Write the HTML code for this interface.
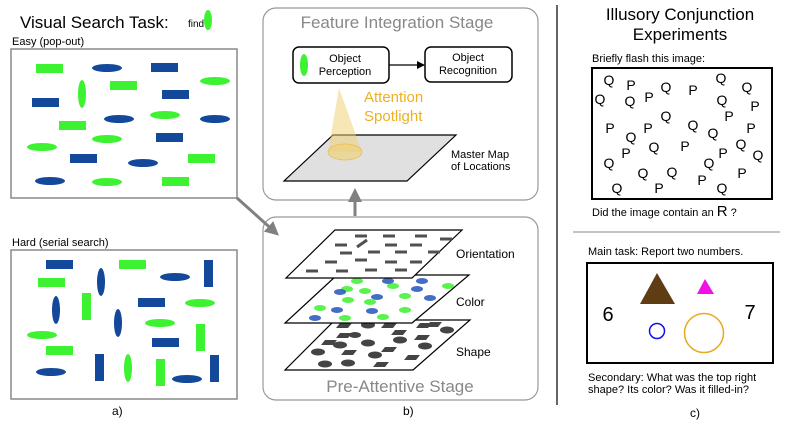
<!DOCTYPE html><html><head><meta charset="utf-8"><style>body{margin:0;background:#fff}svg{display:block;font-family:"Liberation Sans",sans-serif}</style></head><body>
<svg width="789" height="425" viewBox="0 0 789 425">
<defs><marker id="ah" markerWidth="14" markerHeight="14" refX="10" refY="7" orient="auto" markerUnits="userSpaceOnUse"><path d="M0,0L14,7L0,14z" fill="#808080"/></marker>
<marker id="ab" markerWidth="8" markerHeight="8" refX="7" refY="4" orient="auto" markerUnits="userSpaceOnUse"><path d="M0,0L8,4L0,8z" fill="#000"/></marker></defs>
<text x="20" y="28" font-size="17">Visual Search Task:</text>
<text x="188" y="27" font-size="10">find</text>
<ellipse cx="208" cy="20" rx="4" ry="10" fill="#3df230"/>
<text x="12" y="45" font-size="11">Easy  (pop-out)</text>
<rect x="11" y="49" width="226" height="149" fill="#fff" stroke="#888" stroke-width="1.5"/>
<g fill="#3df230"><rect x="36" y="64" width="27" height="9"/><rect x="110" y="81" width="27" height="9"/><rect x="59" y="121" width="27" height="9"/><rect x="188" y="154" width="27" height="9"/><rect x="162" y="177" width="27" height="9"/>
<ellipse cx="215" cy="81" rx="15" ry="4"/><ellipse cx="82" cy="94" rx="4" ry="14"/><ellipse cx="165" cy="115" rx="15" ry="4"/><ellipse cx="107" cy="139" rx="15" ry="4"/><ellipse cx="42" cy="147" rx="15" ry="4"/><ellipse cx="107" cy="182" rx="15" ry="4"/></g>
<g fill="#13489a"><rect x="151" y="63" width="27" height="9"/><rect x="162" y="90" width="27" height="9"/><rect x="32" y="98" width="27" height="9"/><rect x="156" y="133" width="27" height="9"/><rect x="70" y="154" width="27" height="9"/>
<ellipse cx="107" cy="68" rx="15" ry="4"/><ellipse cx="119" cy="119" rx="15" ry="4"/><ellipse cx="215" cy="119" rx="15" ry="4"/><ellipse cx="143" cy="163" rx="15" ry="4"/><ellipse cx="50" cy="181" rx="15" ry="4"/></g>
<text x="12" y="246" font-size="11">Hard (serial search)</text>
<rect x="11" y="250" width="226" height="149" fill="#fff" stroke="#888" stroke-width="1.5"/>
<g fill="#13489a"><rect x="46" y="260" width="27" height="9"/><rect x="204" y="260" width="9" height="27"/><rect x="138" y="298" width="27" height="9"/><rect x="152" y="338" width="27" height="9"/><rect x="95" y="354" width="9" height="27"/><rect x="210" y="355" width="9" height="27"/>
<ellipse cx="101" cy="282" rx="4" ry="14"/><ellipse cx="175" cy="277" rx="15" ry="4"/><ellipse cx="56" cy="310" rx="4" ry="14"/><ellipse cx="118" cy="323" rx="4" ry="14"/><ellipse cx="51" cy="372" rx="15" ry="4"/><ellipse cx="187" cy="379" rx="15" ry="4"/></g>
<g fill="#3df230"><rect x="119" y="260" width="27" height="9"/><rect x="38" y="278" width="27" height="9"/><rect x="82" y="293" width="9" height="27"/><rect x="196" y="324" width="9" height="27"/><rect x="46" y="346" width="27" height="9"/><rect x="156" y="359" width="9" height="27"/>
<ellipse cx="200" cy="303" rx="15" ry="4"/><ellipse cx="160" cy="323" rx="15" ry="4"/><ellipse cx="42" cy="335" rx="15" ry="4"/><ellipse cx="128" cy="368" rx="4" ry="14"/></g>
<text x="112" y="415" font-size="12">a)</text>
<rect x="263" y="8" width="275" height="192" rx="13" fill="#fff" stroke="#999" stroke-width="1.2"/>
<text x="397" y="28" font-size="17" fill="#888" text-anchor="middle">Feature Integration Stage</text>
<rect x="293" y="47" width="96" height="36" rx="6" fill="#fff" stroke="#000" stroke-width="1.5"/>
<ellipse cx="304" cy="65" rx="4" ry="11" fill="#3df230"/>
<text x="345" y="62" font-size="11" text-anchor="middle">Object</text><text x="345" y="75" font-size="11" text-anchor="middle">Perception</text>
<line x1="389" y1="65" x2="424" y2="65" stroke="#000" stroke-width="1.2" marker-end="url(#ab)"/>
<rect x="425" y="47" width="87" height="35" rx="6" fill="#fff" stroke="#000" stroke-width="1.5"/>
<text x="468" y="61" font-size="11" text-anchor="middle">Object</text><text x="468" y="74" font-size="11" text-anchor="middle">Recognition</text>
<polygon points="333,135 456,135 407,181 284,181" fill="#e0e0e0" stroke="#000" stroke-width="1.2"/>
<polygon points="339,88 328,152 362,152" fill="#f0d070" fill-opacity="0.5"/>
<ellipse cx="345" cy="152" rx="17" ry="8" fill="#f0d070" fill-opacity="0.6" stroke="#e8c050" stroke-width="0.8"/>
<text x="364" y="102" font-size="15" fill="#eeb020">Attention</text><text x="364" y="121" font-size="15" fill="#eeb020">Spotlight</text>
<text x="451" y="158" font-size="11">Master Map</text><text x="451" y="170" font-size="11">of Locations</text>
<line x1="355" y1="216" x2="355" y2="192" stroke="#808080" stroke-width="3" marker-end="url(#ah)"/>
<rect x="263" y="217" width="275" height="183" rx="13" fill="#fff" stroke="#999" stroke-width="1.2"/>
<line x1="237" y1="198" x2="276" y2="233" stroke="#808080" stroke-width="3" marker-end="url(#ah)"/>
<text x="400" y="392" font-size="17" fill="#888" text-anchor="middle">Pre-Attentive Stage</text>
<polygon points="335,320 470,320 413,370 285,370" fill="#fff" stroke="#000" stroke-width="1.2"/>
<g fill="#444"><ellipse cx="325" cy="364" rx="7" ry="3.5"/><ellipse cx="348" cy="363" rx="7" ry="3.5"/><ellipse cx="318" cy="352" rx="7" ry="3.5"/><ellipse cx="340" cy="345" rx="7" ry="3.5"/><ellipse cx="368" cy="343" rx="7" ry="3.5"/><ellipse cx="375" cy="355" rx="7" ry="3.5"/><ellipse cx="400" cy="340" rx="7" ry="3.5"/><ellipse cx="425" cy="346" rx="7" ry="3.5"/><ellipse cx="447" cy="330" rx="7" ry="3.5"/><ellipse cx="368" cy="325" rx="7" ry="3.5"/><ellipse cx="355" cy="335" rx="6" ry="3"/>
<polygon points="340,323 352,323 348,328 336,328"/><polygon points="385,323 397,323 393,328 381,328"/><polygon points="420,323 432,323 428,328 416,328"/><polygon points="340,333 352,333 348,338 336,338"/><polygon points="395,330 407,330 403,335 391,335"/><polygon points="418,335 430,335 426,340 414,340"/><polygon points="345,350 357,350 353,355 341,355"/><polygon points="385,347 397,347 393,352 381,352"/><polygon points="408,355 420,355 416,360 404,360"/><polygon points="377,362 389,362 385,367 373,367"/><polygon points="325,340 337,340 333,345 321,345"/><polygon points="430,322 442,322 438,327 426,327"/></g>
<polygon points="337,275 469,275 412,323 285,323" fill="#fff" stroke="#000" stroke-width="1.2"/>
<g fill="#3df230" opacity="0.85"><ellipse cx="357" cy="281" rx="6" ry="3"/><ellipse cx="393" cy="286" rx="6" ry="3"/><ellipse cx="448" cy="286" rx="6" ry="3"/><ellipse cx="347" cy="289" rx="6" ry="3"/><ellipse cx="348" cy="300" rx="6" ry="3"/><ellipse cx="370" cy="302" rx="6" ry="3"/><ellipse cx="405" cy="296" rx="6" ry="3"/><ellipse cx="320" cy="308" rx="6" ry="3"/><ellipse cx="405" cy="310" rx="6" ry="3"/><ellipse cx="345" cy="318" rx="6" ry="3"/><ellipse cx="383" cy="317" rx="6" ry="3"/><ellipse cx="365" cy="291" rx="6" ry="3"/></g>
<g fill="#2255bb" opacity="0.85"><ellipse cx="388" cy="281" rx="6" ry="3"/><ellipse cx="422" cy="281" rx="6" ry="3"/><ellipse cx="417" cy="289" rx="6" ry="3"/><ellipse cx="340" cy="292" rx="6" ry="3"/><ellipse cx="377" cy="297" rx="6" ry="3"/><ellipse cx="430" cy="298" rx="6" ry="3"/><ellipse cx="337" cy="310" rx="6" ry="3"/><ellipse cx="372" cy="311" rx="6" ry="3"/><ellipse cx="315" cy="318" rx="6" ry="3"/></g>
<polygon points="335,230 462,230 412,278 286,278" fill="#fff" stroke="#000" stroke-width="1.2"/>
<g stroke="#505050" stroke-width="3"><line x1="355" y1="236" x2="367" y2="236"/><line x1="383" y1="236" x2="395" y2="236"/><line x1="415" y1="236" x2="427" y2="236"/><line x1="440" y1="239" x2="452" y2="239"/><line x1="335" y1="245" x2="347" y2="245"/><line x1="357" y1="247" x2="367" y2="240"/><line x1="385" y1="245" x2="397" y2="245"/><line x1="410" y1="245" x2="422" y2="245"/><line x1="340" y1="253" x2="352" y2="253"/><line x1="368" y1="252" x2="380" y2="252"/><line x1="395" y1="252" x2="407" y2="252"/><line x1="428" y1="252" x2="440" y2="252"/><line x1="325" y1="262" x2="337" y2="262"/><line x1="355" y1="260" x2="367" y2="260"/><line x1="385" y1="262" x2="397" y2="262"/><line x1="410" y1="262" x2="422" y2="262"/><line x1="306" y1="271" x2="318" y2="271"/><line x1="336" y1="271" x2="348" y2="271"/><line x1="365" y1="270" x2="377" y2="270"/><line x1="395" y1="270" x2="407" y2="270"/></g>
<text x="456" y="258" font-size="12">Orientation</text><text x="456" y="306" font-size="12">Color</text><text x="456" y="356" font-size="12">Shape</text>
<text x="403" y="415" font-size="12">b)</text>
<line x1="557" y1="5" x2="557" y2="405" stroke="#000" stroke-width="1.2"/>
<text x="680" y="20" font-size="17" text-anchor="middle">Illusory Conjunction</text>
<text x="680" y="40" font-size="17" text-anchor="middle">Experiments</text>
<text x="592" y="62" font-size="11">Briefly flash this image:</text>
<rect x="592" y="68" width="180" height="131" fill="#fff" stroke="#000" stroke-width="2"/>
<g font-size="14" text-anchor="middle" dominant-baseline="central">
<text x="609" y="80">Q</text><text x="631" y="85">P</text><text x="600" y="99">Q</text><text x="630" y="101">Q</text><text x="649" y="97">P</text><text x="666" y="87">Q</text><text x="693" y="90">P</text><text x="721" y="78">Q</text><text x="747" y="87">Q</text><text x="722" y="100">Q</text><text x="755" y="106">P</text><text x="729" y="116">P</text><text x="666" y="116">Q</text><text x="693" y="125">Q</text><text x="610" y="128">P</text><text x="648" y="128">P</text><text x="713" y="133">Q</text><text x="751" y="128">P</text><text x="631" y="137">Q</text><text x="626" y="153">P</text><text x="654" y="147">Q</text><text x="685" y="146">P</text><text x="741" y="144">Q</text><text x="723" y="153">P</text><text x="758" y="155">Q</text><text x="609" y="163">Q</text><text x="709" y="163">Q</text><text x="643" y="173">Q</text><text x="672" y="172">Q</text><text x="702" y="180">P</text><text x="742" y="173">P</text><text x="617" y="188">Q</text><text x="659" y="188">P</text><text x="722" y="188">Q</text></g>
<text x="592" y="216" font-size="11">Did the image contain an <tspan font-size="15">R</tspan> ?</text>
<line x1="573" y1="232" x2="780" y2="232" stroke="#888" stroke-width="1"/>
<text x="588" y="255" font-size="11">Main task: Report two numbers.</text>
<rect x="587" y="263" width="186" height="100" fill="#fff" stroke="#000" stroke-width="2"/>
<text x="608" y="321" font-size="20" text-anchor="middle">6</text><text x="750" y="319" font-size="20" text-anchor="middle">7</text>
<polygon points="640,304 657,273 675,304" fill="#603c15"/>
<polygon points="697,294 705,279 714,294" fill="#f010e8"/>
<circle cx="657" cy="331" r="7.5" fill="none" stroke="#1010ee" stroke-width="1.5"/>
<circle cx="704" cy="333" r="19.5" fill="none" stroke="#e8aa20" stroke-width="1.5"/>
<text x="588" y="381" font-size="11">Secondary:  What was the top right</text>
<text x="588" y="393" font-size="11">shape? Its color? Was it filled-in?</text>
<text x="690" y="417" font-size="12">c)</text>
</svg></body></html>
